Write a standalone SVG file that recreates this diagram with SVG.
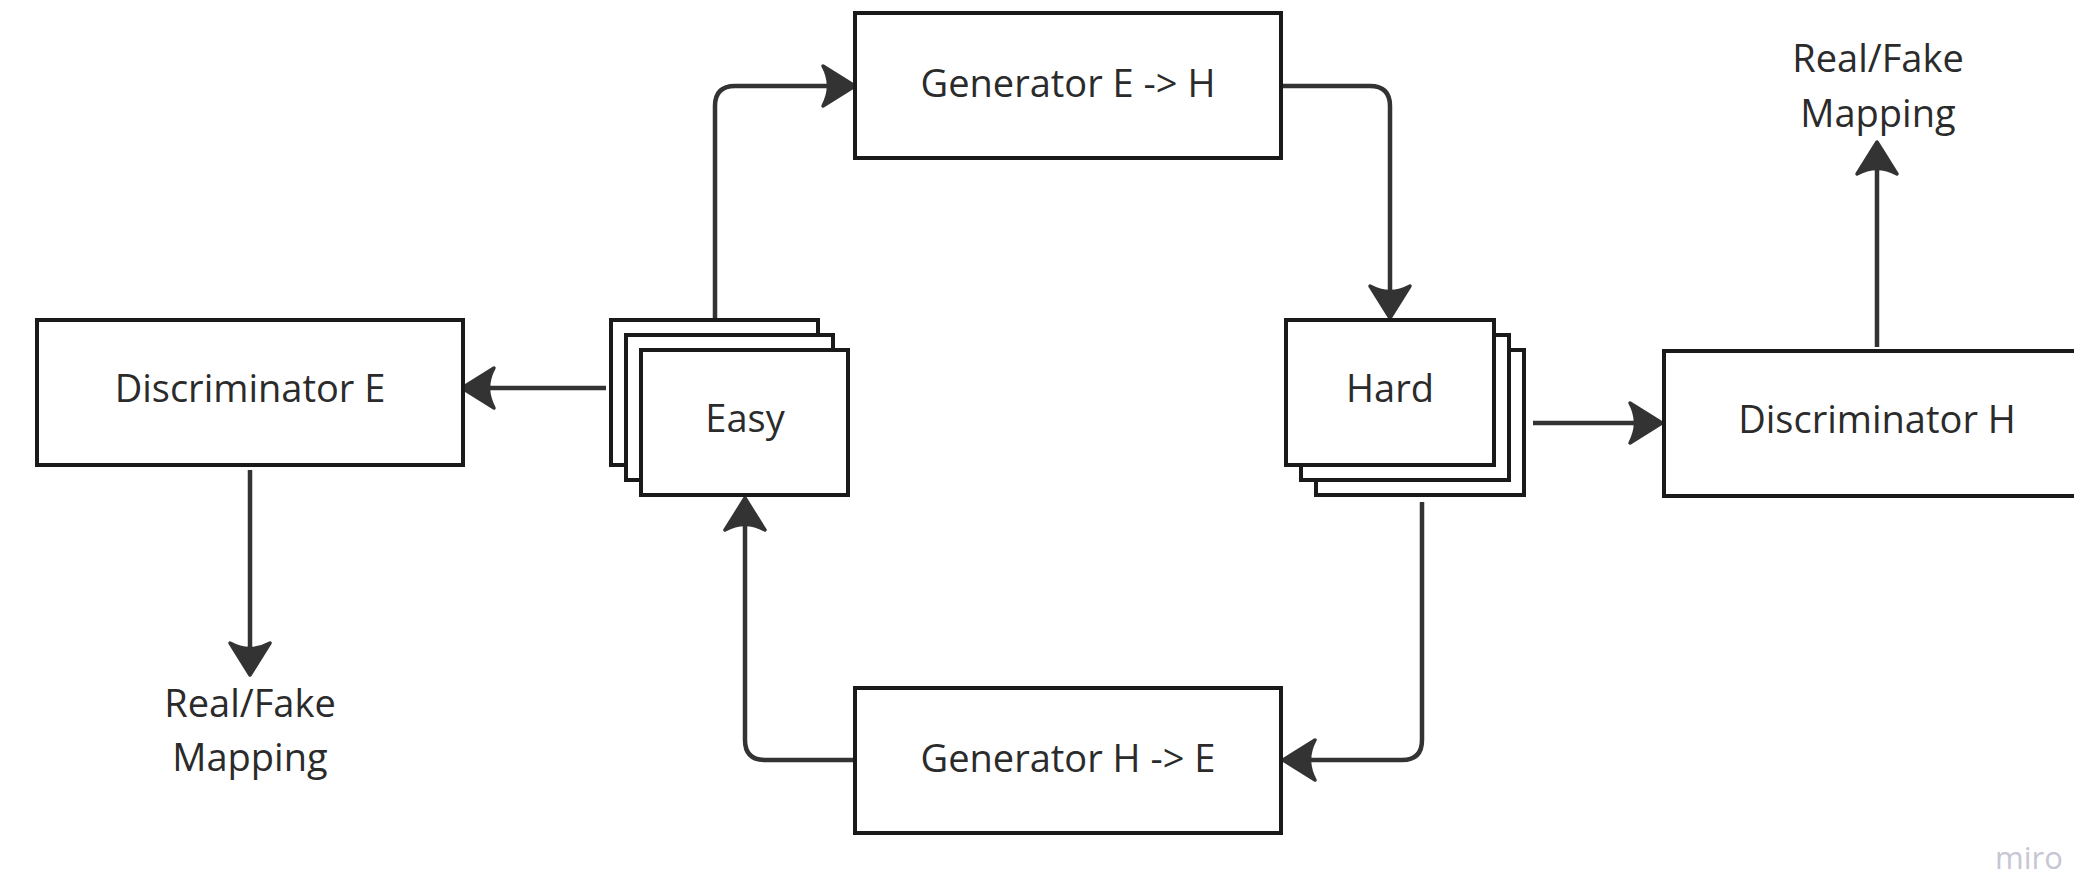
<svg xmlns="http://www.w3.org/2000/svg" width="2074" height="876" viewBox="0 0 2074 876">
  <style>
    .box { fill: #ffffff; stroke: #1a1a1a; stroke-width: 4; }
    .lbl { font-family: "Open Sans", "Liberation Sans", sans-serif; font-size: 38px; fill: #2b2b2b; text-anchor: middle; }
    .wire { fill: none; stroke: #333333; stroke-width: 4.5; stroke-linejoin: round; }
    .mark { font-family: "Open Sans", "Liberation Sans", sans-serif; font-size: 31px; fill: #c6c6d4; text-anchor: middle; }
  </style>
  <defs>
    <marker id="head" markerUnits="userSpaceOnUse" viewBox="-25 -25 45 50" refX="0" refY="0" markerWidth="45" markerHeight="50" orient="auto" overflow="visible">
      <path d="M12,0 L-20,-20 Q-9,0 -20,20 Z" fill="#333333" stroke="#333333" stroke-width="3.5" stroke-linejoin="round"/>
    </marker>
  </defs>
  <rect width="2074" height="876" fill="#ffffff"/>

  <!-- connectors -->
  <g id="connectors">
    <path class="wire" marker-end="url(#head)" d="M606,388 H474"/>
    <path class="wire" marker-end="url(#head)" d="M715,318 V106 Q715,86 735,86 H843"/>
    <path class="wire" marker-end="url(#head)" d="M1281,86 H1370 Q1390,86 1390,106 V306"/>
    <path class="wire" marker-end="url(#head)" d="M1533,423 H1650"/>
    <path class="wire" marker-end="url(#head)" d="M1877,347 V154"/>
    <path class="wire" marker-end="url(#head)" d="M250,470 V663"/>
    <path class="wire" marker-end="url(#head)" d="M1422,502 V740 Q1422,760 1402,760 H1295"/>
    <path class="wire" marker-end="url(#head)" d="M855,760 H765 Q745,760 745,740 V510"/>
  </g>

  <g id="disc-e">
    <rect class="box" x="37" y="320" width="426" height="145"/>
    <text class="lbl" x="250" y="402">Discriminator E</text>
  </g>

  <g id="easy">
    <rect class="box" x="611" y="320" width="207" height="145"/>
    <rect class="box" x="626" y="335" width="207" height="145"/>
    <rect class="box" x="641" y="350" width="207" height="145"/>
    <text class="lbl" x="745" y="432">Easy</text>
  </g>

  <g id="gen-eh">
    <rect class="box" x="855" y="13" width="426" height="145"/>
    <text class="lbl" x="1068" y="97">Generator E -&gt; H</text>
  </g>

  <g id="hard">
    <rect class="box" x="1316" y="350" width="208" height="145"/>
    <rect class="box" x="1301" y="335" width="208" height="145"/>
    <rect class="box" x="1286" y="320" width="208" height="145"/>
    <text class="lbl" x="1390" y="402">Hard</text>
  </g>

  <g id="disc-h">
    <rect class="box" x="1664" y="351" width="426" height="145"/>
    <text class="lbl" x="1877" y="433">Discriminator H</text>
  </g>

  <g id="gen-he">
    <rect class="box" x="855" y="688" width="426" height="145"/>
    <text class="lbl" x="1068" y="772">Generator H -&gt; E</text>
  </g>

  <g id="out-e">
    <text class="lbl" x="250" y="717">Real/Fake</text>
    <text class="lbl" x="250" y="771">Mapping</text>
  </g>

  <g id="out-h">
    <text class="lbl" x="1878" y="72">Real/Fake</text>
    <text class="lbl" x="1878" y="127">Mapping</text>
  </g>

  <text class="mark" x="2029" y="869">miro</text>
</svg>
